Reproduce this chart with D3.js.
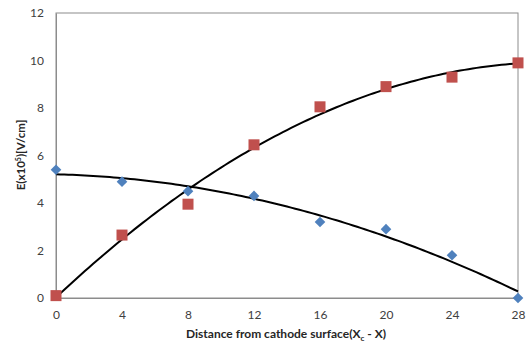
<!DOCTYPE html>
<html><head><meta charset="utf-8">
<script src="https://cdn.jsdelivr.net/npm/d3@7"></script>
<style>body{margin:0;background:#fff}text{font-family:Lato,"Open Sans",sans-serif}</style>
</head><body>
<svg id="c" width="531" height="344"></svg>
<script>
const xValues = [0, 4, 8, 12, 16, 20, 24, 28];
const blueValues = [5.4, 4.9, 4.5, 4.3, 3.2, 2.9, 1.8, 0];
const redValues = [0.1, 2.65, 3.95, 6.45, 8.05, 8.9, 9.3, 9.9];
const xTicks = [0, 4, 8, 12, 16, 20, 24, 28];
const yTicks = [0, 2, 4, 6, 8, 10, 12];

const svg = d3.select("#c");
const L = 56, R = 518, T = 13, B = 298;
const x = d3.scaleLinear().domain([0, 28]).range([L, R]);
const y = d3.scaleLinear().domain([0, 12]).range([B, T]);

// quadratic least squares
function polyfit2(xs, ys) {
  const n = xs.length;
  let s = [0,0,0,0,0], t = [0,0,0];
  for (let i = 0; i < n; i++) {
    let p = 1;
    for (let k = 0; k < 5; k++) { s[k] += p; if (k < 3) t[k] += p * ys[i]; p *= xs[i]; }
  }
  const A = [[s[0],s[1],s[2],t[0]],[s[1],s[2],s[3],t[1]],[s[2],s[3],s[4],t[2]]];
  for (let i = 0; i < 3; i++) {
    for (let j = i+1; j < 3; j++) {
      const f = A[j][i] / A[i][i];
      for (let k = i; k < 4; k++) A[j][k] -= f * A[i][k];
    }
  }
  const c = [0,0,0];
  for (let i = 2; i >= 0; i--) {
    let v = A[i][3];
    for (let k = i+1; k < 3; k++) v -= A[i][k] * c[k];
    c[i] = v / A[i][i];
  }
  return xv => c[0] + c[1]*xv + c[2]*xv*xv;
}

// plot border
svg.append("rect").attr("x", L).attr("y", T).attr("width", R - L).attr("height", B - T)
  .attr("fill", "none").attr("stroke", "#8c8c8c").attr("stroke-width", 1);

// axes
const xAxis = svg.append("g").attr("transform", `translate(0,${B})`)
  .call(d3.axisBottom(x).tickValues(xTicks).tickSize(0).tickPadding(12));
const yAxis = svg.append("g").attr("transform", `translate(${L},0)`)
  .call(d3.axisLeft(y).tickValues(yTicks).tickSize(0).tickPadding(12));
[xAxis, yAxis].forEach(g => {
  g.select(".domain").attr("stroke", "#8c8c8c");
  g.selectAll("text").attr("font-size", 12).attr("fill", "#404040");
});

// trendlines
const line = d3.line().x(d => x(d[0])).y(d => y(d[1]));
[[blueValues], [redValues]].forEach(([vals]) => {
  const f = polyfit2(xValues, vals);
  const pts = d3.range(0, 28.001, 0.25).map(v => [v, f(v)]);
  svg.append("path").attr("d", line(pts)).attr("fill", "none")
    .attr("stroke", "#000").attr("stroke-width", 2);
});

// markers
const diamond = d3.symbol().type(d3.symbolDiamond2 || d3.symbolSquare).size(72);
svg.append("g").selectAll("path").data(xValues.map((v, i) => [v, blueValues[i]])).join("path")
  .attr("transform", d => `translate(${x(d[0])},${y(d[1])}) rotate(${d3.symbolDiamond2 ? 0 : 45})`)
  .attr("d", diamond).attr("fill", "#4f81bd");
svg.append("g").selectAll("rect").data(xValues.map((v, i) => [v, redValues[i]])).join("rect")
  .attr("x", d => x(d[0]) - 5.5).attr("y", d => y(d[1]) - 5.5)
  .attr("width", 11).attr("height", 11).attr("fill", "#c0504d");

// x title
const xt = svg.append("text").attr("x", 286).attr("y", 338).attr("text-anchor", "middle")
  .attr("font-size", 12).attr("font-weight", "bold").attr("fill", "#262626");
xt.append("tspan").text("Distance  from cathode surface(X");
xt.append("tspan").attr("font-size", 8).attr("dy", 3).text("c");
xt.append("tspan").attr("dy", -3).text(" - X)");

// y title
const yt = svg.append("text").attr("transform", `translate(25,155) rotate(-90)`)
  .attr("text-anchor", "middle").attr("font-size", 11.5).attr("font-weight", "bold").attr("fill", "#262626");
yt.append("tspan").text("E(x10");
yt.append("tspan").attr("font-size", 7).attr("dy", -4).text("5");
yt.append("tspan").attr("dy", 4).text(")[V/cm]");
</script>
</body></html>
